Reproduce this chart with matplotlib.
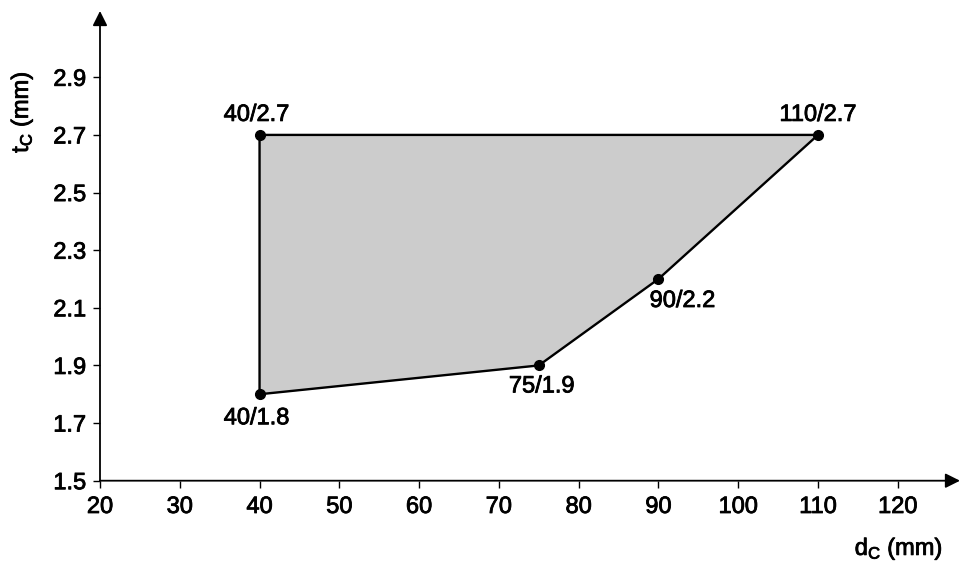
import matplotlib.pyplot as plt
import matplotlib.patheffects as pe

plt.rcParams['font.family'] = ['Liberation Sans', 'DejaVu Sans']
plt.rcParams['mathtext.fontset'] = 'custom'
plt.rcParams['mathtext.rm'] = 'Liberation Sans'
plt.rcParams['mathtext.it'] = 'Liberation Sans'

# corner points of the region (d_C / t_C)
dc = [40, 75, 90, 110, 40]
tc = [1.8, 1.9, 2.2, 2.7, 2.7]
# label offsets in pixels (dx, dy)
offs = [(-3, -24), (3, -21), (24, -22), (0, 20), (-3, 20)]

xticks = [20, 30, 40, 50, 60, 70, 80, 90, 100, 110, 120]
yticks = [1.5, 1.7, 1.9, 2.1, 2.3, 2.5, 2.7, 2.9]

heavy = [pe.withStroke(linewidth=0.6, foreground='black')]
fs = 17

fig = plt.figure(figsize=(9.6, 5.63), dpi=100)
ax = fig.add_axes([100/960, 82.3/563, 860/960, (480.7-11)/563])

ax.fill(dc, tc, color='#cccccc', zorder=1)
ax.plot(dc + [dc[0]], tc + [tc[0]], color='black', lw=1.7, zorder=2)
ax.plot(dc, tc, 'o', color='black', ms=7, zorder=3)

for x, y, (dx, dy) in zip(dc, tc, offs):
    ax.annotate(f"{x}/{y}", (x, y), xytext=(dx*0.72, dy*0.72),
                textcoords='offset points', ha='center', va='center',
                fontsize=fs, path_effects=heavy)

ax.set_xlim(20, 127.8)
ax.set_ylim(1.5, 3.13)
ax.set_xticks(xticks)
ax.set_yticks(yticks)
ax.set_xticklabels([str(v) for v in xticks])
ax.set_yticklabels([f"{v:.1f}" for v in yticks])
ax.tick_params(direction='out', length=5, width=1, labelsize=fs)
ax.tick_params(axis='x', pad=6)
ax.tick_params(axis='y', pad=5)
for lab in ax.get_xticklabels() + ax.get_yticklabels():
    lab.set_path_effects(heavy)

for s in ax.spines.values():
    s.set_visible(False)

# axes with arrow heads
ax.annotate('', xy=(1, 0), xytext=(0, 0), xycoords='axes fraction',
            arrowprops=dict(arrowstyle='-|>', color='black', lw=1.3,
                            mutation_scale=22, shrinkA=0, shrinkB=0))
ax.annotate('', xy=(0, 1), xytext=(0, 0), xycoords='axes fraction',
            arrowprops=dict(arrowstyle='-|>', color='black', lw=1.3,
                            mutation_scale=22, shrinkA=0, shrinkB=0))

fig.text(22/960, 1-112/563, r'$\mathregular{t_C}$ (mm)', rotation=90,
         ha='center', va='center', fontsize=fs, path_effects=heavy)
fig.text(943/960, 1-555/563, r'$\mathregular{d_C}$ (mm)', ha='right',
         va='baseline', fontsize=fs, path_effects=heavy)

fig.savefig('out.png', dpi=100)
